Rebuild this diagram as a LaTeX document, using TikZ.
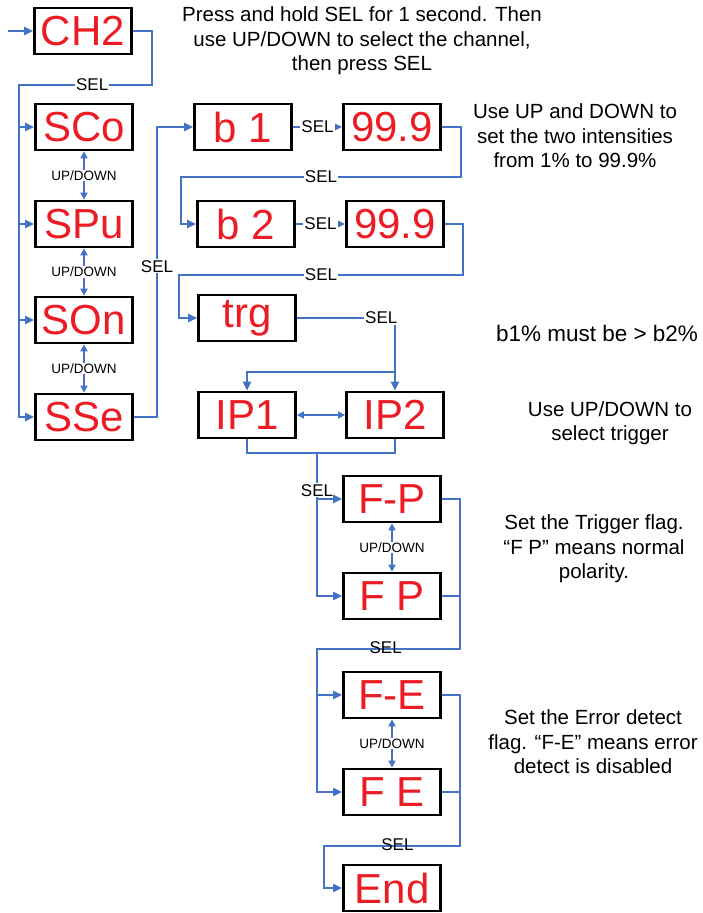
\documentclass[tikz,border=0pt]{standalone}
\usepackage{fontspec}
\setmainfont{Liberation Sans}
\usetikzlibrary{arrows.meta}
\definecolor{linkblue}{RGB}{68,114,196}
\definecolor{segred}{RGB}{236,28,36}

\begin{document}
\begin{tikzpicture}
      [   x=1pt, y=-1pt,
          disp/.style={draw=black,line width=2.8pt,minimum width=97pt,minimum height=46pt,inner sep=0pt,text=segred,font=\fontsize{42}{42}\selectfont},
          link/.style={draw=linkblue,line width=2.3pt},
          arr/.style={link,-{Triangle[length=9pt,width=8pt]}},
          udarr/.style={link,{Triangle[length=7pt,width=7pt]}-{Triangle[length=7pt,width=7pt]}},
          sel/.style={fill=white,inner sep=1pt,font=\fontsize{17}{17}\selectfont},
          selbare/.style={inner sep=0pt,yshift=1.5pt,font=\fontsize{17}{17}\selectfont},
          ud/.style={fill=white,inner sep=1pt,font=\fontsize{13.5}{14}\selectfont},
          note/.style={align=center,font=\fontsize{20.5}{24.5}\selectfont},
      ]
          \useasboundingbox (0,0) rectangle (703,913);

          % channel column
          \node[disp] (ch2) at (83,31) {CH2};
          \node[disp] (sco) at (84,127) {SCo};
          \node[disp] (spu) at (84,224) {SPu};
          \node[disp] (son) at (84,320) {SOn};
          \node[disp] (sse) at (84,417) {SSe};

          % intensity rows
          \node[disp] (bone) at (243,127) {b 1};
          \node[disp] (vone) at (392,127) {99.9};
          \node[disp] (btwo) at (246,224) {b 2};
          \node[disp] (vtwo) at (395,224) {99.9};
          \node[disp] (trg) at (247,318) {trg};
          \node[disp] (ipone) at (247,415) {IP1};
          \node[disp] (iptwo) at (395,415) {IP2};

          % flags
          \node[disp] (fp) at (392,499) {F-P};
          \node[disp] (fnp) at (392,596) {F P};
          \node[disp] (fe) at (392,695) {F-E};
          \node[disp] (fne) at (392,792) {F E};
          \node[disp] (fend) at (392,888) {End};

          % notes
          \node[note] (ntop) at (362,41) {Press and hold SEL for 1 second. Then\\use UP/DOWN to select the channel,\\then press SEL};
          \node[note] (nint) at (575,136) {Use UP and DOWN to\\set the two intensities\\from 1\% to 99.9\%};
          \node[note,font=\fontsize{22.5}{24}\selectfont] (nrule) at (597,333) {b1\% must be > b2\%};
          \node[note] (ntrg) at (610,423) {Use UP/DOWN to\\select trigger};
          \node[note] (nflag) at (594,549) {Set the Trigger flag.\\“F P” means normal\\polarity.};
          \node[note] (nerr) at (593,742) {Set the Error detect\\flag. “F-E” means error\\detect is disabled};

          % channel select
          \coordinate (start) at (8,31);
          \draw[arr] (start) -- (ch2.west);
          \coordinate (chr) at (152,85);
          \coordinate (chl) at (19,85);
          \draw[arr] (ch2.east) -| (chr) -- node[sel,pos=0.45]{SEL} (chl) |- (sse.west);
          \foreach \n in {sco,spu,son}
              \draw[arr] (chl |- \n.west) -- (\n.west);
          \draw[udarr] (sco.south) -- node[ud]{UP/DOWN} (spu.north);
          \draw[udarr] (spu.south) -- node[ud]{UP/DOWN} (son.north);
          \draw[udarr] (son.south) -- node[ud]{UP/DOWN} (sse.north);

          % into intensities
          \coordinate (ssr) at (157,417);
          \coordinate (sst) at (157,127);
          \draw[arr] (sse.east) -- (ssr) -- node[sel,pos=0.52]{SEL} (sst) -- (bone.west);
          \draw[arr] (bone.east) -- node[sel]{SEL} (vone.west);
          \coordinate (v1r) at (461,177);
          \coordinate (v1l) at (181,177);
          \draw[arr] (vone.east) -| (v1r) -- node[sel]{SEL} (v1l) |- (btwo.west);
          \draw[arr] (btwo.east) -- node[sel]{SEL} (vtwo.west);
          \coordinate (v2r) at (463,275);
          \coordinate (v2l) at (179,275);
          \draw[arr] (vtwo.east) -| (v2r) -- node[sel]{SEL} (v2l) |- (trg.west);

          % trigger
          \draw[arr] (trg.east) -| node[sel,pos=0.43]{SEL} (iptwo.north);
          \coordinate (ipj) at (395,372);
          \draw[arr] (ipj) -| (ipone.north);
          \draw[udarr] (ipone.east) -- (iptwo.west);
          \coordinate (ipb) at (317,453);
          \draw[link] (ipone.south) |- (ipb) -| (iptwo.south);
          \draw[arr] (ipb) |- node[sel,pos=0.13]{SEL} (fnp.west);
          \draw[arr] (ipb |- fp.west) -- (fp.west);

          % trigger flag
          \draw[udarr] (fp.south) -- node[ud]{UP/DOWN} (fnp.north);
          \coordinate (fpr) at (460,649);
          \coordinate (fpl) at (317,649);
          \draw[arr] (fp.east) -| (fpr) -- node[selbare,pos=0.52]{SEL} (fpl) |- (fne.west);
          \draw[link] (fnp.east) -- (fpr |- fnp.east);
          \draw[arr] (fpl |- fe.west) -- (fe.west);

          % error flag
          \draw[udarr] (fe.south) -- node[ud]{UP/DOWN} (fne.north);
          \coordinate (fer) at (460,846);
          \coordinate (fel) at (324,846);
          \draw[arr] (fe.east) -| (fer) -- node[selbare,pos=0.46]{SEL} (fel) |- (fend.west);
          \draw[link] (fne.east) -- (fer |- fne.east);
    \end{tikzpicture}
\end{document}
